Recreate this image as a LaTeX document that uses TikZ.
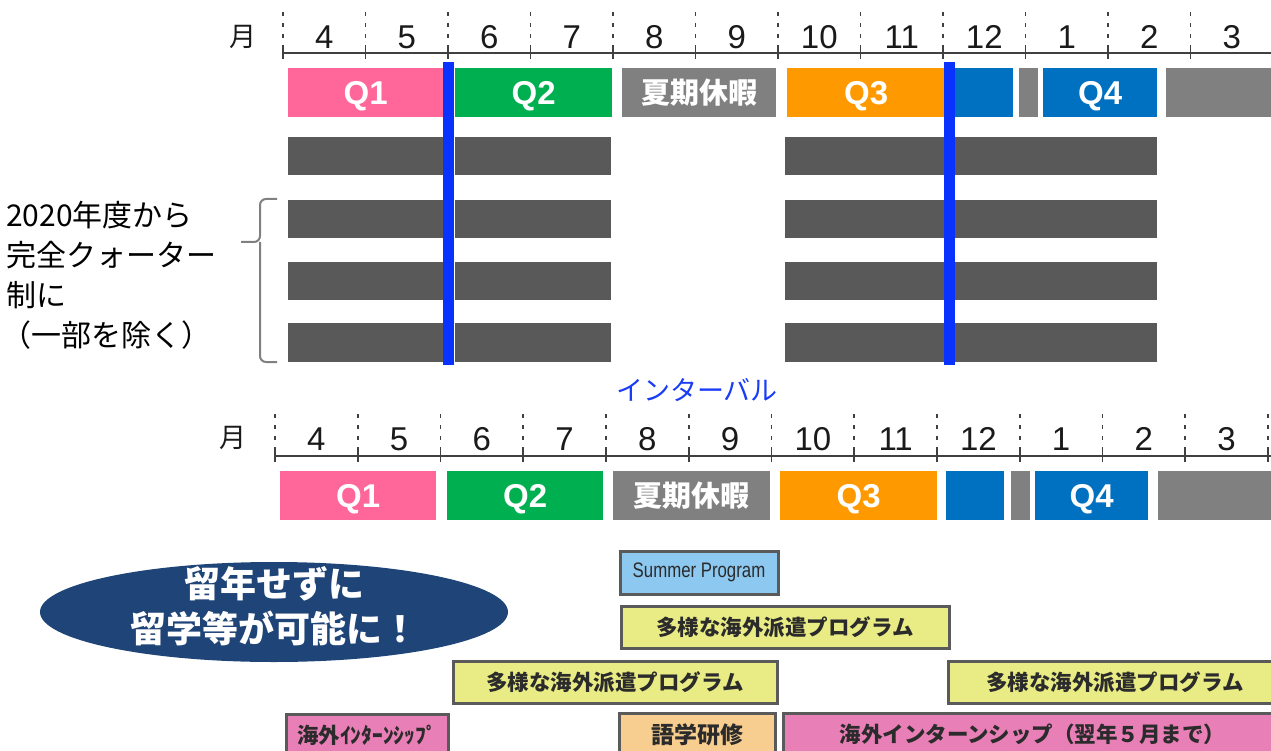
\documentclass[tikz,border=0pt]{standalone}
\usepackage{fontspec}
\usepackage{graphicx}
\setmainfont{Liberation Sans}
\newfontfamily\jp{Noto Sans CJK JP}
\usetikzlibrary{shapes.geometric}
\definecolor{qpink}{HTML}{FF6699}
\definecolor{qgreen}{HTML}{00B050}
\definecolor{qgray}{HTML}{808080}
\definecolor{qorange}{HTML}{FF9900}
\definecolor{qblue}{HTML}{0070C0}
\definecolor{barc}{HTML}{595959}
\definecolor{vblue}{HTML}{0A32FF}
\definecolor{ellc}{HTML}{1F4578}
\definecolor{spblue}{HTML}{8CC8F0}
\definecolor{progy}{HTML}{E9EC84}
\definecolor{progo}{HTML}{F8CD90}
\definecolor{progp}{HTML}{E97FB7}
\definecolor{bordc}{HTML}{5A5A5A}
\definecolor{axisc}{HTML}{404040}
\definecolor{txtc}{HTML}{1A1A1A}
\definecolor{intc}{HTML}{1A3CF5}
\definecolor{progtxt}{HTML}{2B2B2B}
\definecolor{bracec}{HTML}{808080}
\newcommand\mkbox[7]{\node[#1, minimum width={#5-#3}, minimum height={#6-#4}] (#2) at (#3,#4) {#7};}
\newcommand\mkpbox[7]{\node[#1, minimum width={#5-#3-3}, minimum height={#6-#4-3}] (#2) at (#3+1.5,#4+1.5) {#7};}
\begin{document}
\begin{tikzpicture}[x=1pt,y=-1pt,
  qbar/.style={rectangle, inner sep=0, anchor=north west, text=white, font=\fontsize{33}{38}\selectfont\bfseries, text height=23pt, text depth=0pt},
  qjbar/.style={rectangle, inner sep=0, anchor=north west, text=white, font=\jp\fontsize{29}{32}\selectfont\bfseries},
  darkbar/.style={rectangle, inner sep=0, anchor=north west, fill=barc},
  prog/.style={rectangle, inner sep=0, anchor=north west, draw=bordc, line width=3pt, text=progtxt, font=\jp\fontsize{21.5}{26}\selectfont\bfseries},
  month/.style={font=\fontsize{33}{38}\selectfont, text=txtc, inner sep=0},
  monthk/.style={font=\jp\fontsize{27}{30}\selectfont, text=txtc, inner sep=0},
  tickdash/.style={draw=axisc, line width=1.6pt, dash pattern=on 4pt off 7pt},
  tickmark/.style={draw=axisc, line width=1.6pt},
  axisline/.style={draw=axisc, line width=2.5pt},
  vline/.style={draw=vblue, line width=11pt},
  bracepath/.style={draw=bracec, line width=2pt, rounded corners=6pt},
  lefttext/.style={font=\jp\fontsize{30}{34}\selectfont, text=black, anchor=west, inner sep=0},
]
\useasboundingbox (0,0) rectangle (1271,751);
\clip (0,0) rectangle (1271,751);

% ---------- top timeline ----------
\node[monthk] (mkt) at (243,37) {月};
\foreach \k in {0,...,12} {
  \draw[tickdash] (283+82.5*\k,12) -- (283+82.5*\k,48);
  \draw[tickmark] (283+82.5*\k,48) -- (283+82.5*\k,59);
}
\draw[axisline] (283,53) -- (1271,53);
\foreach \m [count=\k from 0] in {4,5,6,7,8,9,10,11,12,1,2,3}
  \node[month] (mt\k) at (283+82.5*\k+41.25,37) {\m};

\mkbox{qbar, fill=qpink}{q1t}{288}{68}{443}{117}{Q1}
\mkbox{qbar, fill=qgreen}{q2t}{455}{68}{612}{117}{Q2}
\mkbox{qjbar, fill=qgray}{sut}{622}{68}{776}{117}{夏期休暇}
\mkbox{qbar, fill=qorange}{q3t}{787}{68}{945}{117}{Q3}
\mkbox{qbar, fill=qblue}{bxt}{954}{68}{1013}{117}{}
\mkbox{qbar, fill=qgray}{gxt}{1019}{68}{1038}{117}{}
\mkbox{qbar, fill=qblue}{q4t}{1043}{68}{1157}{117}{Q4}
\mkbox{qbar, fill=qgray}{g2t}{1166}{68}{1290}{117}{}

% dark bars
\foreach \ya/\yb [count=\r] in {137/175,200/238,262/300,323/362} {
  \mkbox{darkbar}{da\r}{288}{\ya}{444}{\yb}{}
  \mkbox{darkbar}{db\r}{455}{\ya}{611}{\yb}{}
  \mkbox{darkbar}{dc\r}{785}{\ya}{944}{\yb}{}
  \mkbox{darkbar}{dd\r}{954}{\ya}{1157}{\yb}{}
}

% blue interval lines
\draw[vline] (448.5,62) -- (448.5,365);
\draw[vline] (949,62) -- (949,365);
\node[font=\jp\fontsize{27}{30}\selectfont, text=intc, inner sep=0] (ival) at (697,390) {インターバル};

% brace and left text
\draw[bracepath] (277,199) -- (260,199) -- (260,242) -- (241,242);
\draw[bracepath] (277,362) -- (260,362) -- (260,242);
\node[lefttext] (l1) at (6,215) {2020年度から};
\node[lefttext] (l2) at (6,255) {完全クォーター};
\node[lefttext] (l3) at (6,295) {制に};
\node[lefttext] (l4) at (1,335) {（一部を除く）};

% ---------- bottom timeline ----------
\node[monthk] (mkb) at (233,438) {月};
\foreach \k in {0,...,12} {
  \draw[tickdash] (275+82.75*\k,414) -- (275+82.75*\k,451);
  \draw[tickmark] (275+82.75*\k,451) -- (275+82.75*\k,462);
}
\draw[axisline] (275,456) -- (1271,456);
\foreach \m [count=\k from 0] in {4,5,6,7,8,9,10,11,12,1,2,3}
  \node[month] (mb\k) at (275+82.75*\k+41.4,439) {\m};

\mkbox{qbar, fill=qpink}{q1b}{280}{471}{436}{520}{Q1}
\mkbox{qbar, fill=qgreen}{q2b}{447}{471}{603}{520}{Q2}
\mkbox{qjbar, fill=qgray}{sub}{613}{471}{770}{520}{夏期休暇}
\mkbox{qbar, fill=qorange}{q3b}{780}{471}{937}{520}{Q3}
\mkbox{qbar, fill=qblue}{bxb}{946}{471}{1004}{520}{}
\mkbox{qbar, fill=qgray}{gxb}{1011}{471}{1030}{520}{}
\mkbox{qbar, fill=qblue}{q4b}{1035}{471}{1148}{520}{Q4}
\mkbox{qbar, fill=qgray}{g2b}{1158}{471}{1290}{520}{}

% ellipse
\node[ellipse, fill=ellc, minimum width=468pt, minimum height=100pt, inner sep=0] (ell) at (274,612) {};
\node[align=center, text=white, font=\jp\fontsize{36}{45}\selectfont\bfseries, inner sep=0] (elltext) at (274,606) {留年せずに\\留学等が可能に！};

% programmes
\mkpbox{prog, fill=spblue, font=\fontsize{21}{24}\selectfont}{sp}{617}{548}{778}{594}{\scalebox{0.8}[1]{Summer Program}}
\mkpbox{prog, fill=progy}{py1}{618}{603}{949}{648}{多様な海外派遣プログラム}
\mkpbox{prog, fill=progy}{py2}{450}{658}{777}{703}{多様な海外派遣プログラム}
\mkpbox{prog, fill=progy}{py3}{945}{658}{1282}{703}{多様な海外派遣プログラム}
\mkpbox{prog, fill=progp}{pk1}{283}{711}{448}{756}{海外ｲﾝﾀｰﾝｼｯﾌﾟ}
\mkpbox{prog, fill=progo, font=\jp\fontsize{23}{26}\selectfont\bfseries}{go}{616}{710}{775}{756}{語学研修}
\mkpbox{prog, fill=progp}{pk2}{780}{710}{1282}{756}{海外インターンシップ（翌年５月まで）}
\end{tikzpicture}
\end{document}
